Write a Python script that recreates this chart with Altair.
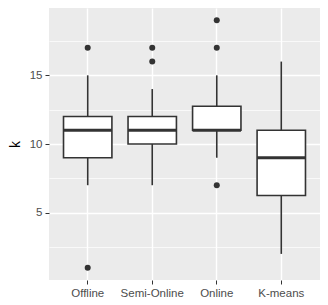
import altair as alt
import pandas as pd

categories = ["Offline", "Semi-Online", "Online", "K-means"]
lower = [7, 7, 9, 2]
q1 = [9, 10, 11, 6.25]
median = [11, 11, 11, 9]
q3 = [12, 12, 12.75, 11]
upper = [15, 14, 15, 16]
outlier_cat = ["Offline", "Offline", "Semi-Online", "Semi-Online", "Online", "Online", "Online"]
outlier_val = [17, 1, 17, 16, 19, 17, 7]
y_breaks = [2.5, 5, 7.5, 10, 12.5, 15, 17.5]

boxes = pd.DataFrame({"cat": categories, "lower": lower, "q1": q1,
                      "median": median, "q3": q3, "upper": upper})
outs = pd.DataFrame({"cat": outlier_cat, "k": outlier_val})

W, H = 271, 272
step = W / 4.2
box_w = 0.75 * step

xscale = alt.Scale(domain=categories, paddingInner=0, paddingOuter=0.1)
yscale = alt.Scale(domain=[0.1, 19.9], nice=False, zero=False)

xaxis = alt.Axis(title=None, bandPosition=0.5, grid=True, gridColor="white", gridWidth=1.4,
                 domain=False, tickColor="#333333", tickSize=4, tickWidth=1,
                 labelColor="#4D4D4D", labelFontSize=11.5, labelPadding=3, labelAngle=0,
                 labelFont="Liberation Sans")
yaxis = alt.Axis(title="k", values=y_breaks, grid=True, gridColor="white",
                 gridWidth={"condition": {"test": "datum.value % 5 === 0", "value": 1.4}, "value": 0.7},
                 tickColor={"condition": {"test": "datum.value % 5 === 0", "value": "#333333"}, "value": "transparent"},
                 labelExpr="datum.value % 5 === 0 ? datum.label : ''",
                 domain=False, tickSize=4, tickWidth=1,
                 labelColor="#4D4D4D", labelFontSize=11.5, labelPadding=3,
                 labelFont="Liberation Sans", titleFont="Liberation Sans",
                 titleFontSize=14, titleFontWeight="normal", titleColor="black", titlePadding=7)

base = alt.Chart(boxes)
x = alt.X("cat:N", scale=xscale, axis=xaxis, sort=categories)

whisk = base.mark_rule(color="#333333", strokeWidth=1.6).encode(
    x=x, y=alt.Y("lower:Q", scale=yscale, axis=yaxis), y2="upper:Q")
box = base.mark_bar(fill="white", stroke="#333333", strokeWidth=1.6, size=box_w, opacity=1).encode(
    x=x, y=alt.Y("q1:Q"), y2="q3:Q")
med = base.mark_tick(color="#333333", thickness=2.8, size=box_w, orient="horizontal", opacity=1).encode(
    x=x, y=alt.Y("median:Q"))
pts = alt.Chart(outs).mark_circle(color="#333333", opacity=1, size=36).encode(
    x=alt.X("cat:N", sort=categories), y=alt.Y("k:Q"))

chart = alt.layer(whisk, box, med, pts).properties(
    width=W, height=H,
    background="white",
    autosize=alt.AutoSizeParams(type="none"),
    padding={"left": 41, "top": 0, "right": 0, "bottom": 25},
).configure_view(fill="#EBEBEB", strokeWidth=0)

chart.save("out.html", embed_options={"renderer": "svg", "actions": False})
